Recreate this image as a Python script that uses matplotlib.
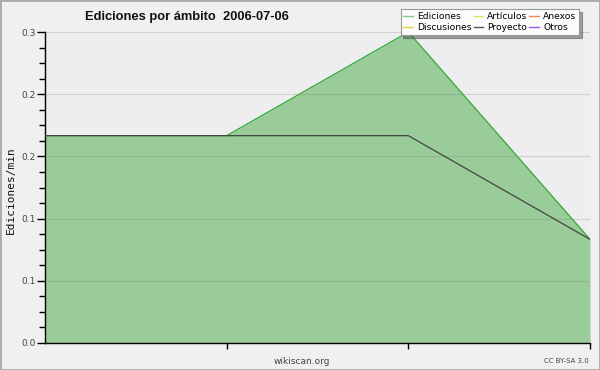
import matplotlib
matplotlib.use("Agg")
import matplotlib.pyplot as plt
from matplotlib.lines import Line2D
from matplotlib.patches import Rectangle
from matplotlib.ticker import MultipleLocator, FormatStrFormatter

# Data
x_points = [0, 1, 2, 3]
ediciones = [0.2, 0.2, 0.3, 0.1]
proyecto = [0.2, 0.2, 0.2, 0.1]
series_names = ["Ediciones", "Discusiones", "Artículos", "Proyecto", "Anexos", "Otros"]
series_colors = ["#7fcf7f", "#eecc44", "#ccee55", "#555555", "#ee8855", "#9955ee"]
y_ticks = [0.0, 0.06, 0.12, 0.18, 0.24, 0.3]

fig = plt.figure(figsize=(6, 3.7), dpi=100, facecolor="#f0f0f0")
fig.patches.append(Rectangle((0, 0), 1, 1, transform=fig.transFigure, fill=False,
                             edgecolor="#aaaaaa", linewidth=2, zorder=10))
ax = fig.add_axes([45/600, 1-343/370, 545/600, 311/370])
ax.set_facecolor("#eeeef0")

ax.fill_between(x_points, 0, ediciones, color="#99cc99", linewidth=0, zorder=2)
ax.plot(x_points, ediciones, color="#33aa33", linewidth=0.9, zorder=3)
ax.plot(x_points, proyecto, color="#444444", linewidth=0.9, zorder=3)

ax.set_xlim(0, 3)
ax.set_ylim(0, 0.3)
ax.set_yticks(y_ticks)
ax.yaxis.set_major_formatter(FormatStrFormatter("%.1f"))
ax.yaxis.set_minor_locator(MultipleLocator(0.015))
ax.set_xticks([1, 2, 3])
ax.set_xticklabels([])
ax.grid(axis="y", color="#888888", alpha=0.3, linewidth=0.8, zorder=4)
ax.set_axisbelow(False)
for s in ["top", "right"]:
    ax.spines[s].set_visible(False)
ax.spines["left"].set_linewidth(1.0)
ax.spines["bottom"].set_linewidth(1.0)
ax.tick_params(axis="y", which="major", length=6, width=1, labelsize=6.5, labelcolor="#444444", pad=1)
ax.tick_params(axis="y", which="minor", length=4, width=1)
ax.tick_params(axis="x", which="major", length=4, width=1)

fig.text(11/600, 1-190/370, "Ediciones/min", fontsize=8, family="DejaVu Sans Mono",
         rotation=90, ha="center", va="center", color="#111111")

fig.text(85/600, 1-17/370, "Ediciones por ámbito  2006-07-06", fontsize=9.3,
         family="Liberation Sans", fontweight="bold", va="center", ha="left", color="#111111")
fig.text(302/600, 1-361/370, "wikiscan.org", fontsize=6.5, ha="center", va="center", color="#444444")
fig.text(589/600, 1-361/370, "CC BY-SA 3.0", fontsize=5, ha="right", va="center", color="#444444")

handles = [Line2D([], [], color=c, linewidth=1) for c in series_colors]
leg = fig.legend(handles, series_names, ncol=3, loc="upper right",
                 bbox_to_anchor=(579/600, 1-9/370), fontsize=6.6, frameon=True,
                 fancybox=False, shadow=True, handlelength=1.0, handletextpad=0.5,
                 columnspacing=0.2, labelspacing=0.3, borderpad=0.3,
                 borderaxespad=0)
leg.get_frame().set_edgecolor("#999999")
leg.get_frame().set_facecolor("#fcfcfc")
leg.get_frame().set_linewidth(0.8)

fig.savefig("out.png", dpi=100, facecolor=fig.get_facecolor())
